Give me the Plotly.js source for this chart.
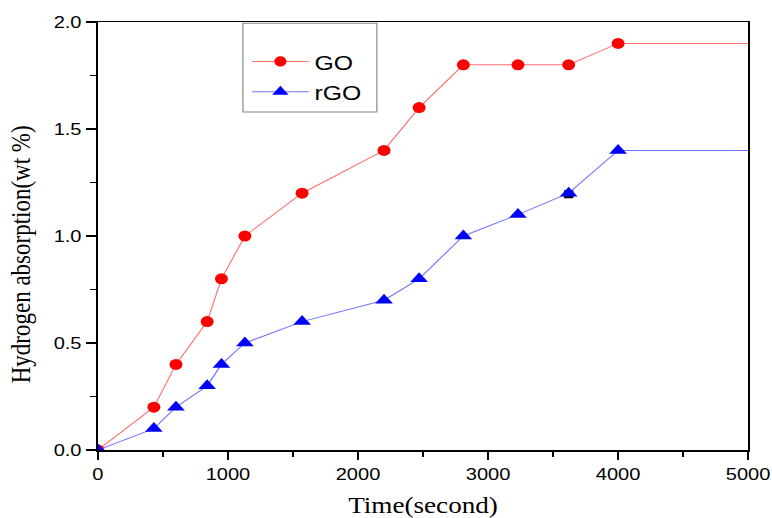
<!DOCTYPE html>
<html>
<head>
<meta charset="utf-8">
<script src="https://cdn.plot.ly/plotly-3.0.1.min.js"></script>
<style>
  html, body { margin: 0; padding: 0; background: #fff; overflow: hidden; }
  #plot { width: 654px; height: 518px; transform: scaleX(1.18); transform-origin: 0 0; }
</style>
</head>
<body>
<div id="plot"></div>
<script>
// Data
const timeSec = [0, 430, 600, 840, 950, 1130, 1570, 2200, 2470, 2810, 3230, 3620, 4000];
const goValues = [0, 0.2, 0.4, 0.6, 0.8, 1.0, 1.2, 1.4, 1.6, 1.8, 1.8, 1.8, 1.9];
const rgoValues = [0, 0.1, 0.2, 0.3, 0.4, 0.5, 0.6, 0.7, 0.8, 1.0, 1.1, 1.2, 1.4];
const tailTime = 5000;           // plateau line continues to the axis end
const seriesNames = ['GO', 'rGO'];
const xTickVals = [0, 1000, 2000, 3000, 4000, 5000];
const yTickVals = [0, 0.5, 1.0, 1.5, 2.0];
const stray = { x: [3620], y: [1.195] }; // small black square under the rGO marker

function withTail(xs, ys) {
  return { x: xs.concat([tailTime]), y: ys.concat([ys[ys.length - 1]]) };
}
function sizes(n, s) {
  const a = new Array(n).fill(s); a.push(0); return a;
}

const go = withTail(timeSec, goValues);
const rgo = withTail(timeSec, rgoValues);

const traces = [
  {
    x: stray.x, y: stray.y, mode: 'markers', showlegend: false, hoverinfo: 'skip',
    marker: { symbol: 'square', size: 8, color: '#000' }
  },
  {
    x: go.x, y: go.y, name: seriesNames[0], mode: 'lines+markers',
    line: { color: '#ff7070', width: 1 },
    marker: { symbol: 'circle', size: sizes(timeSec.length, 11), color: '#ff0000', opacity: 1, line: { width: 0 } }
  },
  {
    x: rgo.x, y: rgo.y, name: seriesNames[1], mode: 'lines+markers',
    line: { color: '#7070ff', width: 1 },
    marker: { symbol: 'triangle-up', size: sizes(timeSec.length, 13), color: '#0000ff', opacity: 1, line: { width: 0 } }
  }
];

const tickFont = { family: 'Liberation Sans, Arial, sans-serif', size: 17, color: '#000' };
const titleFont = { family: 'Liberation Serif, Times New Roman, serif', size: 23, color: '#000' };

const layout = {
  width: 654, height: 518,
  margin: { l: 83, r: 20, t: 22, b: 68 },
  paper_bgcolor: '#fff', plot_bgcolor: '#fff',
  showlegend: true,
  xaxis: {
    range: [0, 5000], tickvals: xTickVals, ticktext: xTickVals.map(String),
    ticks: 'outside', ticklen: 8, tickwidth: 1.5, tickcolor: '#000',
    minor: { dtick: 500, tick0: 0, ticks: 'outside', ticklen: 5, tickwidth: 1.5, tickcolor: '#000' },
    showline: true, linecolor: '#000', linewidth: 1.5, mirror: true,
    showgrid: false, zeroline: false, tickfont: tickFont,
    title: { text: 'Time(second)', font: titleFont, standoff: 14 }
  },
  yaxis: {
    range: [0, 2], tickvals: yTickVals, ticktext: yTickVals.map(v => v.toFixed(1)),
    ticks: 'outside', ticklen: 9, tickwidth: 1.5, tickcolor: '#000',
    minor: { dtick: 0.25, tick0: 0, ticks: 'outside', ticklen: 5, tickwidth: 1.5, tickcolor: '#000' },
    showline: true, linecolor: '#000', linewidth: 1.5, mirror: true,
    showgrid: false, zeroline: false, tickfont: tickFont
  },
  legend: {
    x: 0.228, y: 0.955, xanchor: 'left', yanchor: 'top',
    bgcolor: 'rgba(0,0,0,0)', borderwidth: 0, itemwidth: 48,
    font: { family: 'Liberation Sans, Arial, sans-serif', size: 21, color: '#000' }
  },
  shapes: [{
    type: 'rect', xref: 'paper', yref: 'paper',
    x0: 0.223, x1: 0.429, y0: 0.790, y1: 0.997,
    line: { color: '#888', width: 1 }, fillcolor: 'rgba(0,0,0,0)'
  }],
  annotations: [{
    text: 'Hydrogen absorption(wt %)', xref: 'paper', yref: 'paper',
    x: -0.117, y: 0.456, xanchor: 'center', yanchor: 'middle',
    textangle: -90, showarrow: false, font: titleFont
  }]
};

Plotly.newPlot('plot', traces, layout, { displayModeBar: false, staticPlot: true });
</script>
</body>
</html>
